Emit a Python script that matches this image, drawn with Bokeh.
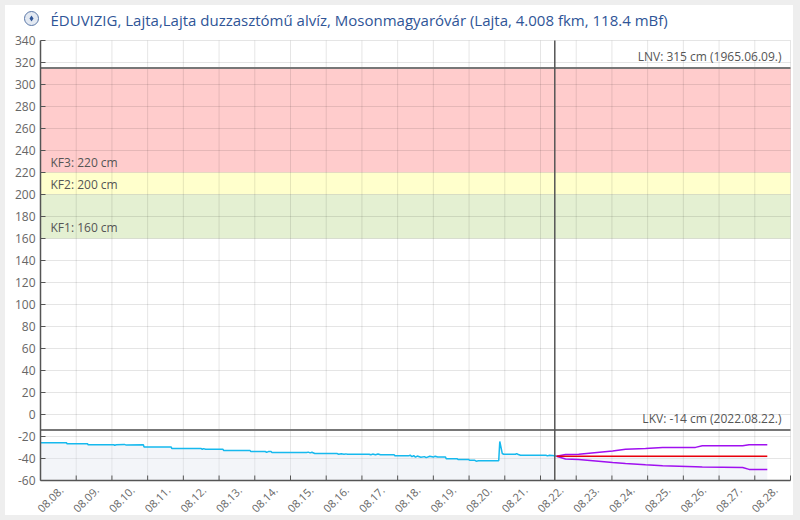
from bokeh.plotting import figure
from bokeh.models import Range1d, BoxAnnotation, Label
from bokeh.embed import file_html
from bokeh.resources import INLINE

title = "ÉDUVIZIG, Lajta,Lajta duzzasztómű alvíz, Mosonmagyaróvár (Lajta, 4.008 fkm, 118.4 mBf)"

# one category per day, x = days since 08.08. 00:00
day_labels = ["08.08.", "08.09.", "08.10.", "08.11.", "08.12.", "08.13.", "08.14.",
              "08.15.", "08.16.", "08.17.", "08.18.", "08.19.", "08.20.", "08.21.",
              "08.22.", "08.23.", "08.24.", "08.25.", "08.26.", "08.27.", "08.28."]

# measured water level (cm)
obs_day = [0.00, 0.73, 0.74, 1.32, 1.33, 2.05, 2.08, 2.12, 2.35, 2.40, 2.88, 2.90,
           3.66, 3.68, 4.50, 4.53, 4.57, 4.62, 5.11, 5.13, 5.87, 5.89, 6.30, 6.33,
           6.38, 6.46, 6.48, 7.45, 7.50, 7.55, 7.60, 7.68, 8.30, 8.35, 8.42, 8.50,
           8.55, 8.60, 9.20, 9.25, 9.30, 9.38, 9.45, 9.52, 9.90, 9.93, 10.30, 10.35,
           10.40, 10.45, 10.50, 10.55, 10.65, 10.75, 10.80, 10.90, 11.00, 11.05,
           11.12, 11.34, 11.36, 11.67, 11.69, 11.99, 12.01, 12.15, 12.20, 12.26,
           12.83, 12.86, 12.93, 12.97, 13.30, 13.33, 13.38, 13.44, 14.15, 14.20,
           14.25, 14.40]
obs_level = [-25.7, -25.7, -26.6, -26.6, -27.5, -27.5, -28.1, -27.5, -27.2, -27.8, -27.5, -29.6,
             -29.6, -31.0, -31.0, -31.6, -31.0, -31.6, -31.6, -32.8, -32.8, -33.7, -33.7, -34.5,
             -33.7, -33.7, -34.6, -34.6, -34.2, -34.9, -34.3, -35.5, -35.5, -36.1, -35.7, -36.2,
             -35.8, -36.1, -36.1, -36.6, -36.0, -36.6, -36.0, -36.6, -36.6, -37.6, -37.6, -37.0,
             -38.3, -37.4, -38.7, -37.8, -38.9, -38.3, -39.2, -38.0, -38.7, -37.9,
             -38.6, -38.6, -40.3, -40.3, -40.9, -40.9, -41.5, -41.5, -42.4, -42.1,
             -42.1, -24.5, -35.5, -36.1, -36.1, -35.6, -36.4, -37.0, -37.0, -37.6,
             -37.0, -37.6]

# forecast (cm)
fc_day = [14.45, 14.70, 15.07, 16.02, 16.38, 16.94, 17.42, 18.34, 18.53, 19.66, 19.84, 20.35]
fc_median = [-37.9, -37.9, -37.9, -37.9, -37.9, -37.9, -37.9, -37.9, -37.9, -37.9, -37.9, -37.9]
fc_upper = [-37.9, -36.4, -36.1, -33.1, -31.6, -31.0, -29.9, -29.9, -28.4, -28.4, -27.5, -27.5]
fc_lower = [-37.9, -40.5, -40.9, -43.6, -44.5, -45.7, -46.6, -47.5, -47.8, -48.1, -49.9, -49.9]

kf1, kf2, kf3 = 160, 200, 220
lnv, lkv = 315, -14
now_day = 14.4

x_min, x_max = 0, 21
y_min, y_max = -60, 340
y_ticks = list(range(y_min, y_max + 1, 20))
day_ticks = list(range(1, 22))
FONT = "Open Sans"

# the whole figure is the frame, axes are drawn by hand so that labels are not clipped
PX_X = 750 / (x_max - x_min)     # px per day
PX_Y = 440 / (y_max - y_min)     # px per cm
p = figure(width=788, height=510, output_backend="svg", toolbar_location=None,
           min_border=0, min_border_left=0, min_border_right=0, min_border_top=0,
           min_border_bottom=0,
           x_range=Range1d(x_min - 35 / PX_X, x_max + 3 / PX_X),
           y_range=Range1d(y_min - 35 / PX_Y, y_max + 35 / PX_Y),
           styles={"margin": "5px", "box-shadow": "0 0 0 10px #eeeeee"})
p.outline_line_color = None
p.background_fill_color = "white"
p.border_fill_color = "white"
p.xaxis.visible = False
p.yaxis.visible = False
p.grid.visible = False

# warning bands
for lo, hi, col in [(kf3, lnv, "#ffcccc"), (kf2, kf3, "#ffffcc"), (kf1, kf2, "#e4f0d2")]:
    p.add_layout(BoxAnnotation(left=x_min, right=x_max, bottom=lo, top=hi, fill_color=col,
                               fill_alpha=1, line_color=None, level="underlay"))

# grid
p.segment(x0=[x_min] * len(y_ticks), y0=y_ticks, x1=[x_max] * len(y_ticks), y1=y_ticks,
          line_color="black", line_alpha=0.1, line_width=1)
p.segment(x0=day_ticks, y0=[y_min] * len(day_ticks), x1=day_ticks,
          y1=[y_max] * len(day_ticks), line_color="black", line_alpha=0.1, line_width=1)

# area under the series
p.varea(x=obs_day, y1=y_min, y2=obs_level, fill_color="#dde3ee", fill_alpha=0.35)
p.varea(x=fc_day, y1=y_min, y2=fc_median, fill_color="#dde3ee", fill_alpha=0.35)

p.line(obs_day + [fc_day[0]], obs_level + [fc_median[0]], line_color="#16b9ee", line_width=1.5)
p.line(fc_day, fc_upper, line_color="#a010f0", line_width=1.5)
p.line(fc_day, fc_lower, line_color="#a010f0", line_width=1.5)
p.line(fc_day, fc_median, line_color="#e8000b", line_width=1.5)

# LNV / LKV lines and "now" marker
p.segment(x0=[x_min, x_min], y0=[lnv, lkv], x1=[x_max, x_max], y1=[lnv, lkv],
          line_color="#777777", line_width=2)
p.segment(x0=[now_day], y0=[y_min], x1=[now_day], y1=[y_max], line_color="#555555",
          line_width=1.5)

def text(x, y, s, align="left", baseline="bottom", xo=0, yo=0, size="12px",
         color="#555555", angle=0):
    p.add_layout(Label(x=x, y=y, text=s, text_align=align, text_baseline=baseline,
                       x_offset=xo, y_offset=yo, text_font=FONT, text_font_size=size,
                       text_color=color, angle=angle))

text(x_max, lnv, "LNV: 315 cm (1965.06.09.)", "right", xo=-9, yo=3)
text(x_max, lkv, "LKV: -14 cm (2022.08.22.)", "right", xo=-9, yo=3)
text(x_min, kf3, "KF3: 220 cm", xo=10, yo=2)
text(x_min, kf2, "KF2: 200 cm", xo=10, yo=2)
text(x_min, kf1, "KF1: 160 cm", xo=10, yo=3)

# title with a small emblem in front
text(x_min, y_max, title, xo=10, yo=11, size="15px", color="#2f5597")
p.scatter(x=[x_min - 9 / PX_X], y=[y_max + 22 / PX_Y], size=14, marker="circle",
          fill_color="#e3e9f2", line_color="#5b78a8", line_width=1)
p.scatter(x=[x_min - 9 / PX_X], y=[y_max + 22 / PX_Y], size=6, marker="diamond",
          fill_color="#2f5597", line_color=None)

# x axis: line, ticks on the day boundaries, labels mid-day
p.segment(x0=[x_min], y0=[y_min], x1=[x_max], y1=[y_min], line_color="#555555", line_width=1.5)
p.segment(x0=day_ticks, y0=[y_min] * len(day_ticks), x1=day_ticks,
          y1=[y_min + 5 / PX_Y] * len(day_ticks), line_color="#555555", line_width=1)
for k, lab in enumerate(day_labels):
    text(k + 0.5, y_min, lab, "right", "middle", xo=3, yo=-8, size="11px",
         color="#666666", angle=0.785)

# y axis
p.segment(x0=[x_min], y0=[y_min], x1=[x_min], y1=[y_max], line_color="#555555", line_width=1.5)
p.segment(x0=[x_min] * len(y_ticks), y0=y_ticks, x1=[x_min + 5 / PX_X] * len(y_ticks),
          y1=y_ticks, line_color="#555555", line_width=1)
for v in y_ticks:
    text(x_min, v, str(v), "right", "middle", xo=-5, color="#666666")

open("out.html", "w").write(file_html(p, INLINE))
